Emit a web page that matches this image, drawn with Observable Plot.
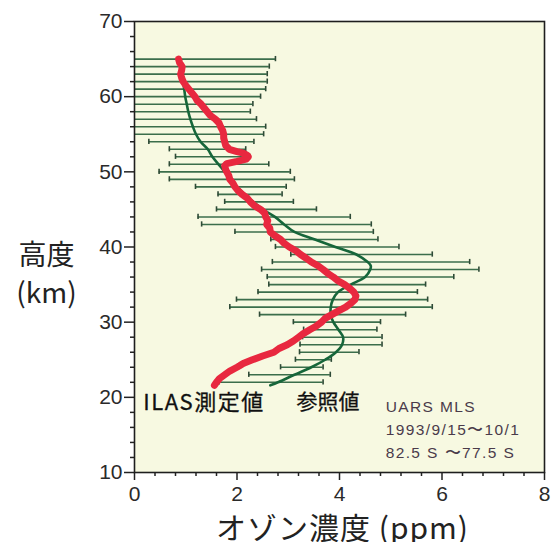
<!DOCTYPE html>
<html><head><meta charset="utf-8">
<script src="https://cdn.jsdelivr.net/npm/d3@7"></script>
<script src="https://cdn.jsdelivr.net/npm/@observablehq/plot@0.6"></script>
<style>html,body{margin:0;padding:0;background:#fff;}#chart svg{display:block;}</style>
</head><body><div id="chart"></div>
<script>
// Error bars (reference climatology range), altitude in km, ozone in ppm
const barAlt = [65,64,63,62,61,60,59,58,57,56,55,54,53,52,51,50,49,48,47,46,45,44,43,42,41,40,39,38,37,36,35,34,33,32,31,30,29,28,27,26,25,24,23,22];
const barLo  = [0,0,0,0,0,0,0,0,0,0,0,0.28,0.68,0.80,0.68,0.48,0.68,1.19,1.63,1.76,1.60,1.24,1.31,1.96,2.66,2.75,3.05,2.69,2.48,2.59,2.62,2.41,1.99,1.86,2.44,3.10,3.30,3.28,3.23,3.22,3.14,2.85,2.23,1.65];
const barHi  = [2.75,2.63,2.59,2.59,2.56,2.46,2.31,2.26,2.38,2.56,2.52,2.33,2.17,2.25,2.62,3.04,3.12,2.96,2.88,3.10,3.55,4.21,4.62,4.66,4.75,5.16,5.81,6.54,6.72,6.23,5.68,5.52,5.72,5.81,5.29,4.80,4.73,4.83,4.83,4.38,3.84,3.68,3.82,3.68];

// ILAS measured profile (red)
const ilasAlt = [65,64.5,64,63.5,63,62.5,62,61.5,61,60.5,60,59.5,59,58.5,58,57.5,57,56.5,56,55.5,55,54.5,54,53.5,53,52.7,52.5,52.2,52.0,51.7,51.4,51.1,50.8,50.3,50,49.5,49,48.5,48,47.5,47,46.5,46,45.5,45,44.5,44,43.5,43,42.5,42,41.5,41,40.5,40,39.5,39,38.5,38,37.5,37,36.5,36,35.5,35,34.5,34,33.5,33,32.5,32,31.5,31,30.5,30,29.5,29,28.5,28,27.5,27,26.5,26,25.5,25,24.5,24.2,24,23.5,23,22.5,22,21.6];
const ilasVal = [0.86,0.88,0.93,0.92,0.90,0.92,0.95,1.00,1.06,1.12,1.18,1.22,1.30,1.36,1.42,1.48,1.58,1.65,1.68,1.72,1.74,1.74,1.76,1.78,1.85,2.00,2.12,2.20,2.22,2.18,2.00,1.80,1.76,1.78,1.80,1.84,1.86,1.92,1.96,2.02,2.10,2.20,2.26,2.34,2.46,2.54,2.56,2.60,2.58,2.64,2.65,2.74,2.85,2.92,3.02,3.15,3.24,3.35,3.45,3.58,3.68,3.77,3.88,3.97,4.10,4.20,4.28,4.32,4.30,4.22,4.12,3.98,3.85,3.72,3.65,3.55,3.42,3.30,3.20,3.10,2.98,2.82,2.72,2.50,2.30,2.12,2.05,2.00,1.86,1.76,1.66,1.60,1.56];

// UARS MLS reference profile (green)
const mlsAlt = [62,61,60,59,58,57,56,55,54,53,52,51,50,49,48,47,46,45,44,43,42,41,40,39,38,37.5,37,36,35,34,33,32,31,30,29,28,27,26,25,24,23,22,21.6];
const mlsVal = [0.95,0.97,0.99,1.02,1.05,1.09,1.14,1.20,1.29,1.43,1.52,1.64,1.76,1.88,2.00,2.15,2.32,2.50,2.74,2.92,3.12,3.52,3.92,4.33,4.55,4.61,4.60,4.50,4.22,3.97,3.87,3.83,3.83,3.88,3.98,4.07,4.05,3.93,3.72,3.45,3.12,2.80,2.65];

const xMajor = [0,2,4,6,8];
const xMinor = [0.4,0.8,1.2,1.6,2.4,2.8,3.2,3.6,4.4,4.8,5.2,5.6,6.4,6.8,7.2,7.6];
const yMajor = [10,20,30,40,50,60,70];
const yMinor = [12,14,16,18,22,24,26,28,32,34,36,38,42,44,46,48,52,54,56,58,62,64,66,68];

const labelILAS = "ILAS測定値";
const labelRef = "参照値";
const refInfo = ["UARS MLS", "1993/9/15〜10/1", "82.5 S 〜77.5 S"];
const yTitle = ["高度", "(km)"];
const xTitle = "オゾン濃度 (ppm)";

const bars = barAlt.map((a, i) => ({alt: a, lo: barLo[i], hi: barHi[i]}));
const ilas = ilasAlt.map((a, i) => ({alt: a, v: ilasVal[i]}));
const mls = mlsAlt.map((a, i) => ({alt: a, v: mlsVal[i]}));

const CJK = "'Noto Sans CJK JP', 'Noto Sans', sans-serif";
const NUM = "'Liberation Sans', Arial, sans-serif";
const green = "#3b6e4b";
const capH = 0.35;

const chart = Plot.plot({
  width: 553, height: 542,
  marginLeft: 134, marginRight: 9, marginTop: 21, marginBottom: 70,
  x: {domain: [0, 8]},
  y: {domain: [10, 70]},
  style: {background: "transparent", fontFamily: NUM, color: "#222"},
  marks: [
    Plot.frame({fill: "#f7f9e1", stroke: null}),
    Plot.ruleY(bars, {y: "alt", x1: "lo", x2: "hi", stroke: green, strokeWidth: 1.6}),
    Plot.ruleX(bars.filter(d => d.lo > 0), {x: "lo", y1: d => d.alt - capH, y2: d => d.alt + capH, stroke: "#2e4a36", strokeWidth: 1.6}),
    Plot.ruleX(bars, {x: "hi", y1: d => d.alt - capH, y2: d => d.alt + capH, stroke: "#2e4a36", strokeWidth: 1.6}),
    Plot.line(mls, {x: "v", y: "alt", stroke: "#16663a", strokeWidth: 2.6, curve: "catmull-rom"}),
    Plot.line(ilas, {x: "v", y: "alt", stroke: "#e8283f", strokeWidth: 7, strokeLinejoin: "round", strokeLinecap: "round"}),
    Plot.axisY(yMinor, {tickSize: 4, tickFormat: () => "", label: null, strokeWidth: 1.5}),
    Plot.axisY(yMajor, {tickSize: 10, tickPadding: 2, fontSize: 21, label: null, strokeWidth: 1.5, fill: "#2a2a2a"}),
    Plot.axisX(xMinor, {tickSize: 4, tickFormat: () => "", label: null, strokeWidth: 1.5}),
    Plot.axisX(xMajor, {tickSize: 8, tickPadding: 6, fontSize: 21, label: null, strokeWidth: 1.5, fill: "#2a2a2a"}),
    Plot.frame({stroke: "#1e1e1e", strokeWidth: 1.6}),
    Plot.text([labelILAS], {x: 0.17, y: 19.3, text: d => d, textAnchor: "start", fontSize: 22, fontFamily: CJK, fill: "#111", stroke: "#111", strokeWidth: 0.3}),
    Plot.text([labelRef], {x: 3.16, y: 19.3, text: d => d, textAnchor: "start", fontSize: 21, fontFamily: CJK, fill: "#111", stroke: "#111", strokeWidth: 0.3}),
    Plot.text([refInfo.join("\n")], {x: 4.9, y: 16.0, text: d => d, textAnchor: "start", lineAnchor: "middle", fontSize: 15.5, lineHeight: 1.5, fontFamily: NUM, fill: "#4a3b4a"}),
    Plot.text([yTitle.join("\n")], {frameAnchor: "left", dx: -88, dy: 24.5, text: d => d, textAnchor: "middle", lineAnchor: "middle", fontSize: 28, lineHeight: 1.36, fontFamily: CJK, fill: "#222"}),
    Plot.text([xTitle], {frameAnchor: "bottom", dx: 3, dy: 57, text: d => d, textAnchor: "middle", lineAnchor: "middle", fontSize: 30, fontFamily: CJK, fill: "#222"})
  ]
});
// letter spacing tweaks to match the reference's wide lettering
chart.querySelectorAll("text").forEach(t => {
  const s = t.textContent;
  if (s.startsWith("UARS")) t.style.letterSpacing = "1.4px";
  else if (s === labelILAS) t.style.letterSpacing = "1.5px";
  else if (s === xTitle) t.style.letterSpacing = "1px";
});
document.getElementById("chart").append(chart);
</script>
</body></html>
